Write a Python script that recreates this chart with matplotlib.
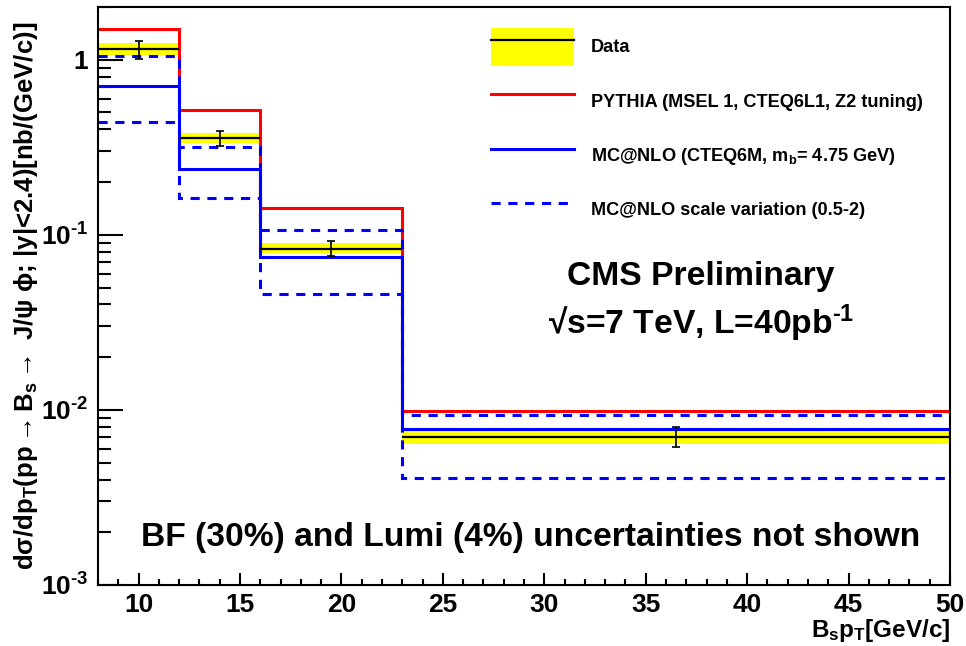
import matplotlib
matplotlib.use('Agg')
import matplotlib.pyplot as plt
from matplotlib.lines import Line2D
from matplotlib.patches import Patch
import numpy as np

plt.rcParams['font.family'] = ['Liberation Sans', 'DejaVu Sans']
plt.rcParams['font.weight'] = 'bold'
plt.rcParams['axes.labelweight'] = 'bold'
plt.rcParams['mathtext.fontset'] = 'custom'
plt.rcParams['mathtext.rm'] = 'Liberation Sans:bold'
plt.rcParams['mathtext.bf'] = 'Liberation Sans:bold'
plt.rcParams['mathtext.it'] = 'Liberation Sans:bold'
plt.rcParams['mathtext.sf'] = 'Liberation Sans:bold'
plt.rcParams['mathtext.default'] = 'bf'

# bin edges in Bs pT [GeV/c]
edges = [8, 12, 16, 23, 50]
centers = [10, 14, 19.5, 36.5]

# measured cross section and uncertainties [nb/(GeV/c)]
data = [1.155, 0.358, 0.0833, 0.0070]
syst_lo = [1.07, 0.336, 0.0786, 0.0064]
syst_hi = [1.25, 0.383, 0.0896, 0.0076]
stat_lo = [1.01, 0.323, 0.0756, 0.0061]
stat_hi = [1.28, 0.393, 0.0925, 0.0080]

# predictions
pythia = [1.50, 0.518, 0.143, 0.0098]
mcnlo = [0.71, 0.238, 0.0744, 0.0078]
mcnlo_hi = [1.054, 0.318, 0.106, 0.0093]
mcnlo_lo = [0.443, 0.162, 0.0461, 0.00407]

ytick_vals = [1e-3, 1e-2, 1e-1, 1]
ytick_labels = [r'10$^{\text{-}3}$', r'10$^{\text{-}2}$', r'10$^{\text{-}1}$', '1']

edges = np.array(edges)
widths = np.diff(edges)
data = np.array(data)

fig = plt.figure(figsize=(9.66, 6.46), dpi=100)
ax = fig.add_axes([98 / 966, 1 - 585 / 646, 852 / 966, 578 / 646])

# yellow systematic band
ax.bar(edges[:-1], np.array(syst_hi) - np.array(syst_lo), bottom=syst_lo,
       width=widths, align='edge', color='#ffff00', linewidth=0, zorder=1)
ax.hlines(data, edges[:-1], edges[1:], color='black', linewidth=1.6, zorder=3)
ax.errorbar(centers, data, yerr=[data - np.array(stat_lo), np.array(stat_hi) - data],
            fmt='none', ecolor='black', elinewidth=1.2, capsize=3, capthick=1.2, zorder=3)

dash = (0, (3, 2.5))
ax.stairs(pythia, edges, baseline=None, color='#ff0000', linewidth=2.2, zorder=2)
ax.stairs(mcnlo, edges, baseline=None, color='#0000ff', linewidth=2.2, zorder=2)
ax.stairs(mcnlo_hi, edges, baseline=None, color='#0000ff', linewidth=2.2,
          linestyle=dash, zorder=2)
ax.stairs(mcnlo_lo, edges, baseline=None, color='#0000ff', linewidth=2.2,
          linestyle=dash, zorder=2)

ax.set_yscale('log')
ax.set_xlim(8, 50)
ax.set_ylim(1e-3, 2.0)

ax.set_xticks(np.arange(10, 51, 5))
ax.set_xticks(np.arange(8, 51, 1), minor=True)
ax.set_yticks(ytick_vals)
ax.set_yticklabels(ytick_labels)
ax.tick_params(axis='both', which='both', direction='in', labelsize=19, width=1.5)
ax.tick_params(axis='x', which='major', length=9, pad=5.5)
ax.tick_params(axis='x', which='minor', length=4.5)
ax.tick_params(axis='y', which='major', length=18, pad=7)
ax.tick_params(axis='y', which='minor', length=9.5)
for s in ax.spines.values():
    s.set_linewidth(1.5)

ax.set_xlabel('B$_{s}$p$_{T}$[GeV/c]', fontsize=17.5, ha='right', va='top')
ax.xaxis.set_label_coords(1.0, -0.056)
ax.set_ylabel(r'd$\sigma$/dp$_{T}$(pp$\rightarrow$B$_{s}$$\rightarrow$ J/$\psi$ $\phi$; |y|<2.4)[nb/(GeV/c)]',
              fontsize=18.5)
ax.yaxis.set_label_coords(-0.068, 0.5)

ax.text(0.708, 0.533, 'CMS Preliminary', transform=ax.transAxes,
        ha='center', va='center', fontsize=24.2)
ax.text(0.708, 0.452, r'√s=7 TeV, L=40pb$^{\text{-}1}$', transform=ax.transAxes,
        ha='center', va='center', fontsize=24.2)
ax.text(0.508, 0.083, 'BF (30%) and Lumi (4%) uncertainties not shown',
        transform=ax.transAxes, ha='center', va='center', fontsize=24.2)

handles = [
    (Patch(facecolor='#ffff00', edgecolor='none'), Line2D([], [], color='black', linewidth=1.6)),
    Line2D([], [], color='#ff0000', linewidth=2.2),
    Line2D([], [], color='#0000ff', linewidth=2.2),
    Line2D([], [], color='#0000ff', linewidth=2.2, linestyle=dash),
]
labels = ['Data', 'PYTHIA (MSEL 1, CTEQ6L1, Z2 tuning)',
          'MC@NLO (CTEQ6M, m$_{b}$= 4.75 GeV)', 'MC@NLO scale variation (0.5-2)']
ax.legend(handles, labels, loc='upper left', bbox_to_anchor=(0.461, 0.964),
          frameon=False, fontsize=13.1, handlelength=4.56, handleheight=2.86,
          handletextpad=0.93, labelspacing=0.88, borderpad=0, borderaxespad=0)

fig.savefig('out.png', dpi=100)
plt.close(fig)
